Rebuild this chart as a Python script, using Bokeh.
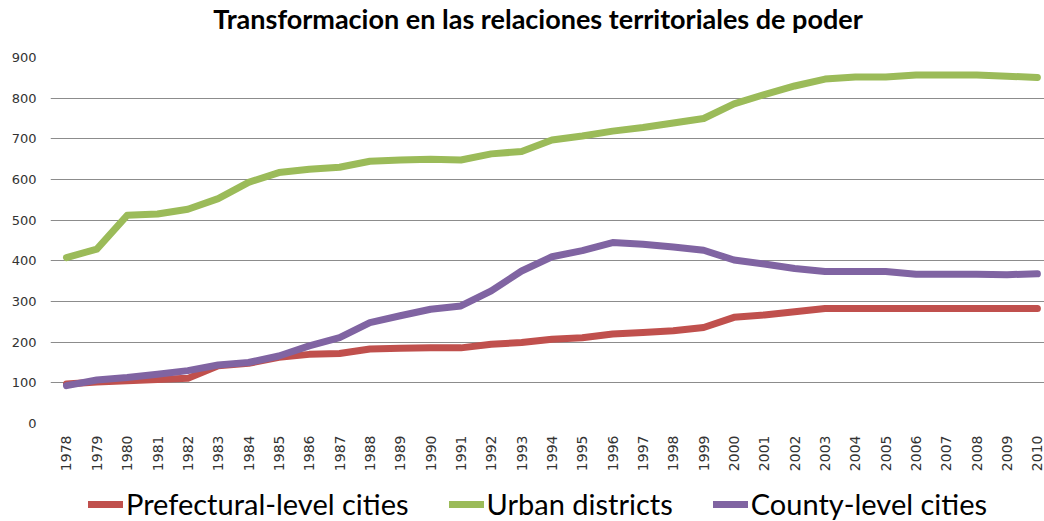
import math
from bokeh.plotting import figure
from bokeh.layouts import column
from bokeh.models import Range1d, FixedTicker, Legend, LegendItem, Label
from bokeh.embed import file_html
from bokeh.resources import INLINE

years = list(range(1978, 2011))
year_labels = [str(y) for y in years]

prefectural = [97, 102, 105, 108, 111, 142, 148, 163, 170, 172, 183, 185, 186, 186, 195, 199,
               207, 211, 220, 224, 228, 236, 261, 267, 275, 283, 283, 283, 283, 283, 283, 283, 283]
urban = [408, 429, 512, 515, 527, 553, 593, 617, 625, 630, 645, 648, 650, 648, 663, 669,
         697, 707, 719, 728, 739, 750, 786, 809, 830, 847, 852, 852, 857, 857, 857, 854, 851]
county = [93, 107, 113, 121, 130, 144, 150, 166, 191, 211, 248, 265, 281, 289, 326, 375,
          410, 425, 445, 441, 434, 426, 402, 392, 381, 374, 374, 374, 367, 367, 367, 366, 368]

series_names = ["Prefectural-level cities", "Urban districts", "County-level cities"]
series_colors = ["#C0504D", "#9BBB59", "#8064A2"]
title_text = "Transformacion en las relaciones territoriales de poder"

W = 1044

# title strip
t = figure(width=W, height=40, output_backend="svg", toolbar_location=None,
           x_range=Range1d(0, W), y_range=Range1d(0, 40),
           x_axis_location=None, y_axis_location=None,
           min_border_left=0, min_border_right=0, min_border_top=0, min_border_bottom=0)
t.grid.grid_line_color = None
t.outline_line_color = None
t.border_fill_color = "white"
t.add_layout(Label(x=512, y=22, text=title_text, text_align="center", text_baseline="middle",
                   text_font="Lato", text_font_style="bold", text_font_size="27px",
                   text_color="#000000"))

# main chart
p = figure(width=W, height=434, output_backend="svg", toolbar_location=None,
           x_range=Range1d(1977.473, 2010.234), y_range=Range1d(0, 900),
           min_border_left=50, min_border_right=0, min_border_top=17, min_border_bottom=51)
p.outline_line_color = None
p.background_fill_color = "white"
p.border_fill_color = "white"

p.xgrid.grid_line_color = None
p.ygrid.grid_line_color = "#8c8c8c"
p.ygrid.grid_line_width = 1
p.yaxis.ticker = FixedTicker(ticks=list(range(0, 901, 100)))
p.xaxis.ticker = FixedTicker(ticks=years)
p.xaxis.major_label_overrides = {y: s for y, s in zip(years, year_labels)}
p.xaxis.major_label_orientation = math.pi / 2

for ax in (p.xaxis[0], p.yaxis[0]):
    ax.axis_line_color = None
    ax.major_tick_line_color = None
    ax.minor_tick_line_color = None
    ax.major_tick_out = 0
    ax.major_tick_in = 0
    ax.major_label_text_font = "DejaVu Sans"
    ax.major_label_text_font_size = "14px"
    ax.major_label_text_color = "#333333"
p.yaxis.major_label_text_font_size = "13px"
p.xaxis.major_label_standoff = 12
p.yaxis.major_label_standoff = 14

for vals, color in zip([prefectural, urban, county], series_colors):
    p.line(years, vals, line_color=color, line_width=7, line_join="round", line_cap="round")

# legend strip below the chart
q = figure(width=W, height=47, output_backend="svg", toolbar_location=None,
           x_range=Range1d(0, 1), y_range=Range1d(0, 1),
           x_axis_location=None, y_axis_location=None,
           min_border_left=0, min_border_right=0, min_border_top=0, min_border_bottom=0)
q.grid.grid_line_color = None
q.outline_line_color = None
q.border_fill_color = "white"
leg_renderers = [q.line([-5, -4], [-5, -4], line_color=c, line_width=7, line_cap="round")
                 for c in series_colors]

legend = Legend(items=[LegendItem(label=n, renderers=[r]) for n, r in zip(series_names, leg_renderers)],
                orientation="horizontal", location=(38, 0))
legend.label_text_font = "Lato"
legend.label_text_font_size = "29px"
legend.label_text_color = "#000000"
legend.glyph_width = 35
legend.glyph_height = 30
legend.label_standoff = 3
legend.spacing = 40
legend.padding = 0
legend.margin = 0
legend.border_line_color = None
legend.background_fill_alpha = 0
q.add_layout(legend, "center")

layout = column(t, p, q, spacing=0)
open("out.html", "w").write(file_html(layout, INLINE))
